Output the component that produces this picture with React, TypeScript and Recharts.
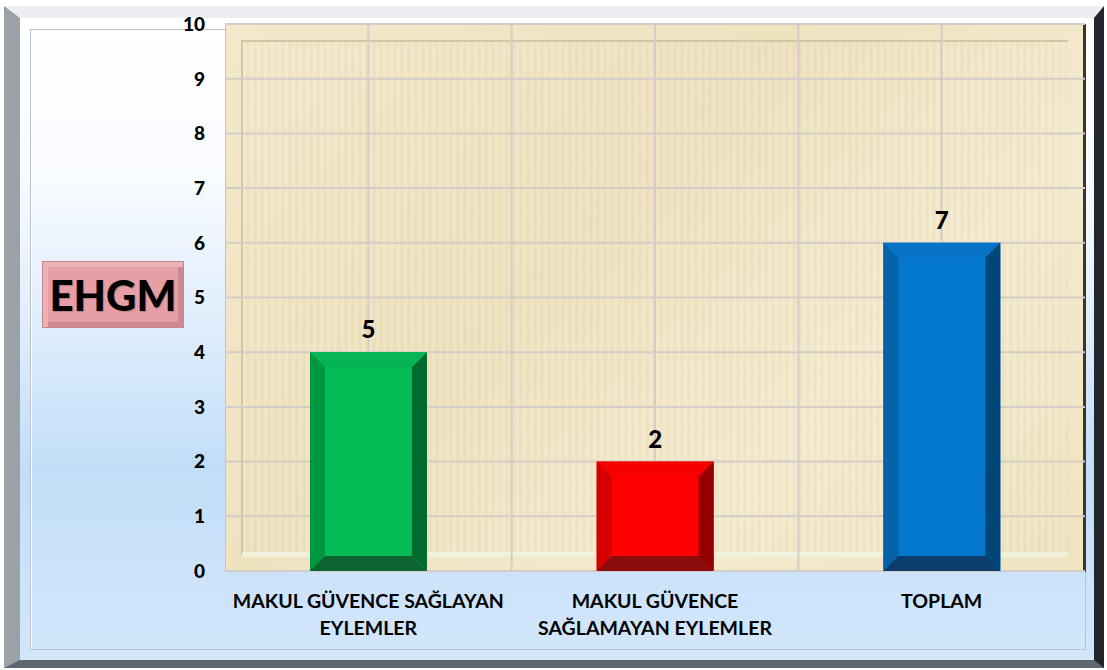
import React from "react";
import { BarChart, Bar, XAxis, YAxis, CartesianGrid, LabelList } from "recharts";

const categories = ["MAKUL GÜVENCE SAĞLAYAN EYLEMLER", "MAKUL GÜVENCE SAĞLAMAYAN EYLEMLER", "TOPLAM"];
const categoryLines = [
  ["MAKUL GÜVENCE SAĞLAYAN", "EYLEMLER"],
  ["MAKUL GÜVENCE", "SAĞLAMAYAN EYLEMLER"],
  ["TOPLAM"],
];
const barValues = [4, 2, 6];
const dataLabels = ["5", "2", "7"];
const yTicks = [0, 1, 2, 3, 4, 5, 6, 7, 8, 9, 10];
const titleText = "EHGM";

const barPalettes = [
  { main: "#05bb55", top: "#07b453", left: "#00983f", right: "#006b2e", bottom: "#0d6431" },
  { main: "#ff0000", top: "#f70000", left: "#d60000", right: "#940000", bottom: "#8c0c0c" },
  { main: "#0478cc", top: "#0873c6", left: "#0563aa", right: "#004677", bottom: "#0b3e6b" },
];

const data = categories.map((name, i) => ({ name, value: barValues[i], label: dataLabels[i], idx: i }));

const W = 1107;
const H = 670;
const PL = 225, PT = 24, PR = 1085, PB = 571;
const FONT = "Lato, 'Open Sans', sans-serif";

const BevelBar = (props: any) => {
  const { x, y, width: w, height: h, payload } = props;
  const p = barPalettes[payload.idx];
  const b = 15;
  const x2 = x + w, y2 = y + h;
  return (
    <g>
      <rect x={x} y={y} width={w} height={h} fill={p.main} />
      <polygon points={`${x},${y} ${x2},${y} ${x2 - b},${y + b} ${x + b},${y + b}`} fill={p.top} />
      <polygon points={`${x},${y} ${x + b},${y + b} ${x + b},${y2 - b} ${x},${y2}`} fill={p.left} />
      <polygon points={`${x2},${y} ${x2},${y2} ${x2 - b},${y2 - b} ${x2 - b},${y + b}`} fill={p.right} />
      <polygon points={`${x},${y2} ${x + b},${y2 - b} ${x2 - b},${y2 - b} ${x2},${y2}`} fill={p.bottom} />
    </g>
  );
};

const XTick = (props: any) => {
  const { x, y, index } = props;
  const lines = categoryLines[index] || [];
  return (
    <g>
      {lines.map((l, i) => (
        <text key={i} x={x} y={y + 37 + i * 27} textAnchor="middle" fontFamily={FONT} fontWeight={700} fontSize={19.5} fill="#000">
          {l}
        </text>
      ))}
    </g>
  );
};

const YTick = (props: any) => {
  const { x, y, payload } = props;
  return (
    <text x={x} y={y} dy="0.36em" textAnchor="end" fontFamily={FONT} fontWeight={900} fontSize={19} fill="#000">
      {payload.value}
    </text>
  );
};

const TopLabel = (props: any) => {
  const { x, y, width, value } = props;
  return (
    <text x={x + width / 2} y={y - 14} textAnchor="middle" fontFamily={FONT} fontWeight={900} fontSize={24} fill="#000">
      {value}
    </text>
  );
};

export default function App() {
  return (
    <div style={{ position: "absolute", left: 0, top: 0, width: W, height: H, background: "#ffffff", overflow: "hidden" }}>
      <div
        style={{
          position: "absolute", left: 4, top: 6, width: 1100 - 26, height: 662 - 20,
          borderLeft: "16px solid #9aa1a8", borderTop: "12px solid #eceef1",
          borderRight: "10px solid #23272b", borderBottom: "8px solid #5f666d",
          background: "linear-gradient(to bottom, #ffffff 0%, #f8fbff 25%, #dcecfc 50%, #c3ddf8 70%, #d3e7fb 100%)",
        }}
      />
      <div style={{ position: "absolute", left: 30, top: 29, width: 1084 - 30, height: 648 - 29, border: "1px solid #b9c3cd", boxShadow: "inset 1px 1px 0 #ffffff" }} />
      <div
        style={{
          position: "absolute", left: PL, top: PT, width: PR - PL - 3, height: PB - PT,
          background: "linear-gradient(135deg, #f3e8cb 0%, #efe2bf 40%, #f4eaCF 70%, #efe3c0 100%)",
          borderTop: "1px solid #cfc3a4", borderLeft: "1px solid #cfc3a4", borderRight: "3px solid #3d3628",
          boxSizing: "content-box",
        }}
      >
        <div
          style={{
            position: "absolute", left: 15, top: 15, right: 15, bottom: 15,
            borderLeft: "2px solid #d3c6a2", borderTop: "2px solid #d3c6a2", borderBottom: "5px solid #f1f2de",
            background: "repeating-linear-gradient(90deg, rgba(255,255,255,0.08) 0px, rgba(255,255,255,0.08) 3px, rgba(160,130,70,0.04) 3px, rgba(160,130,70,0.04) 7px)",
          }}
        />
      </div>
      <div
        style={{
          position: "absolute", left: 42, top: 261, width: 142, height: 67, boxSizing: "border-box",
          border: "1px solid #c7858a",
          background: "#e6a0a5",
          boxShadow: "inset 6px 6px 0 -1px #ecb3b6, inset -6px -6px 0 -1px #cd8990",
          display: "flex", alignItems: "center", justifyContent: "center",
          fontFamily: FONT, fontWeight: 900, fontSize: 42, color: "#000",
          textShadow: "1px 1px 1px rgba(0,0,0,0.2)",
        }}
      >
        {titleText}
      </div>
      <div style={{ position: "absolute", left: 0, top: 0 }}>
        <BarChart width={W} height={H} data={data} margin={{ top: PT, right: W - PR, bottom: H - PB - 60, left: PL - 40 }} barSize={117}>
          <CartesianGrid
            stroke="#d2cdc7"
            strokeWidth={2}
            fill="none"
            verticalCoordinatesGenerator={(args: any) => {
              const off = args.offset;
              return [1, 2, 3, 4, 5].map((k) => off.left + (off.width * k) / 6);
            }}
          />
          <XAxis dataKey="name" axisLine={false} tickLine={false} tickSize={0} tickMargin={0} height={60} interval={0} tick={<XTick />} />
          <YAxis domain={[0, 10]} ticks={yTicks} axisLine={false} tickLine={false} tickSize={0} tickMargin={20} width={40} tick={<YTick />} interval={0} />
          <Bar dataKey="value" isAnimationActive={false} shape={<BevelBar />}>
            <LabelList dataKey="label" content={<TopLabel />} />
          </Bar>
        </BarChart>
      </div>
    </div>
  );
}
